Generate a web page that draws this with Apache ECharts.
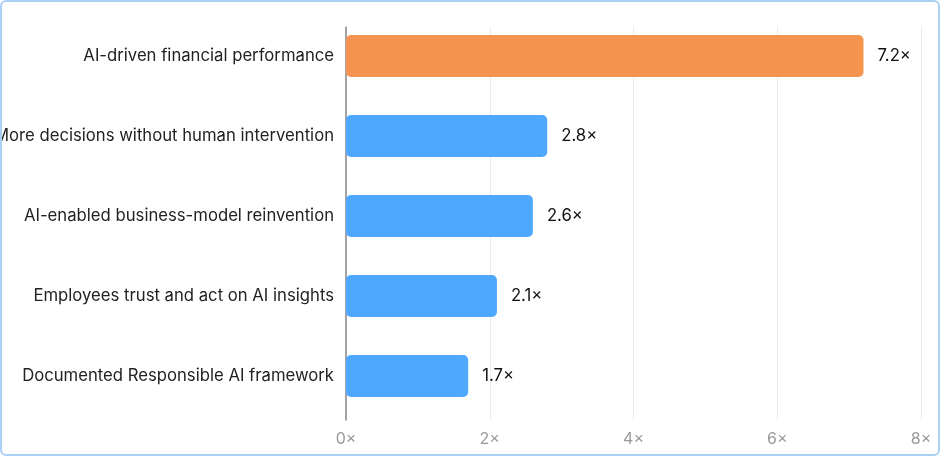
<!DOCTYPE html>
<html>
<head>
<meta charset="utf-8">
<script src="https://cdn.jsdelivr.net/npm/echarts@6/dist/echarts.min.js"></script>
<style>
    html, body { margin: 0; padding: 0; background: #fff; }
    #container {
        width: 940px;
        height: 456px;
        box-sizing: border-box;
        border: 2px solid #acd0f5;
        border-radius: 6px;
    }
</style>
</head>
<body>
<div id="container"></div>
<script>
var dom = document.getElementById('container');
var myChart = echarts.init(dom, null, { renderer: 'canvas' });

// data
const categories = [
    'AI-driven financial performance',
    'More decisions without human intervention',
    'AI-enabled business-model reinvention',
    'Employees trust and act on AI insights',
    'Documented Responsible AI framework'
];
const values = [7.2, 2.8, 2.6, 2.1, 1.7];
const barColors = ['#F5944F', '#4FA8FF', '#4FA8FF', '#4FA8FF', '#4FA8FF'];
const xTicks = [0, 2, 4, 6, 8];

const font = 'Inter, "Noto Sans", sans-serif';

var option = {
    animation: false,
    grid: [
        // grid 0 only draws the axis line, split lines and x labels
        { left: 344, right: 17, top: 25, bottom: 34, outerBoundsMode: 'none', containLabel: false },
        // grid 1 holds the bars and category labels
        { left: 344, right: 17, top: 14, bottom: 38, outerBoundsMode: 'none', containLabel: false }
    ],
    xAxis: [
        {
            gridIndex: 0,
            type: 'value',
            min: xTicks[0],
            max: xTicks[xTicks.length - 1],
            interval: 2,
            axisLine: { show: false },
            axisTick: { show: false },
            splitLine: { show: true, lineStyle: { color: '#ebebeb', width: 1 } },
            axisLabel: {
                color: '#999',
                fontSize: 16,
                fontFamily: font,
                margin: 11,
                formatter: v => v + '×'
            }
        },
        {
            gridIndex: 1,
            type: 'value',
            min: xTicks[0],
            max: xTicks[xTicks.length - 1],
            show: false
        }
    ],
    yAxis: [
        {
            gridIndex: 0,
            type: 'category',
            data: categories,
            inverse: true,
            axisLine: { show: true, lineStyle: { color: '#888', width: 1.5 } },
            axisTick: { show: false },
            axisLabel: { show: false }
        },
        {
            gridIndex: 1,
            type: 'category',
            data: categories,
            inverse: true,
            axisLine: { show: false },
            axisTick: { show: false },
            axisLabel: {
                color: '#222',
                fontSize: 16.7,
                fontFamily: font,
                margin: 12
            }
        }
    ],
    series: [
        {
            type: 'bar',
            xAxisIndex: 1,
            yAxisIndex: 1,
            barWidth: 42,
            data: values.map((v, i) => ({
                value: v,
                itemStyle: { color: barColors[i], borderRadius: 5 }
            })),
            label: {
                show: true,
                position: 'right',
                distance: 14,
                color: '#111',
                fontSize: 16.7,
                fontFamily: font,
                formatter: p => p.value + '×'
            }
        }
    ]
};

myChart.setOption(option);
window.addEventListener('resize', myChart.resize);
</script>
</body>
</html>
